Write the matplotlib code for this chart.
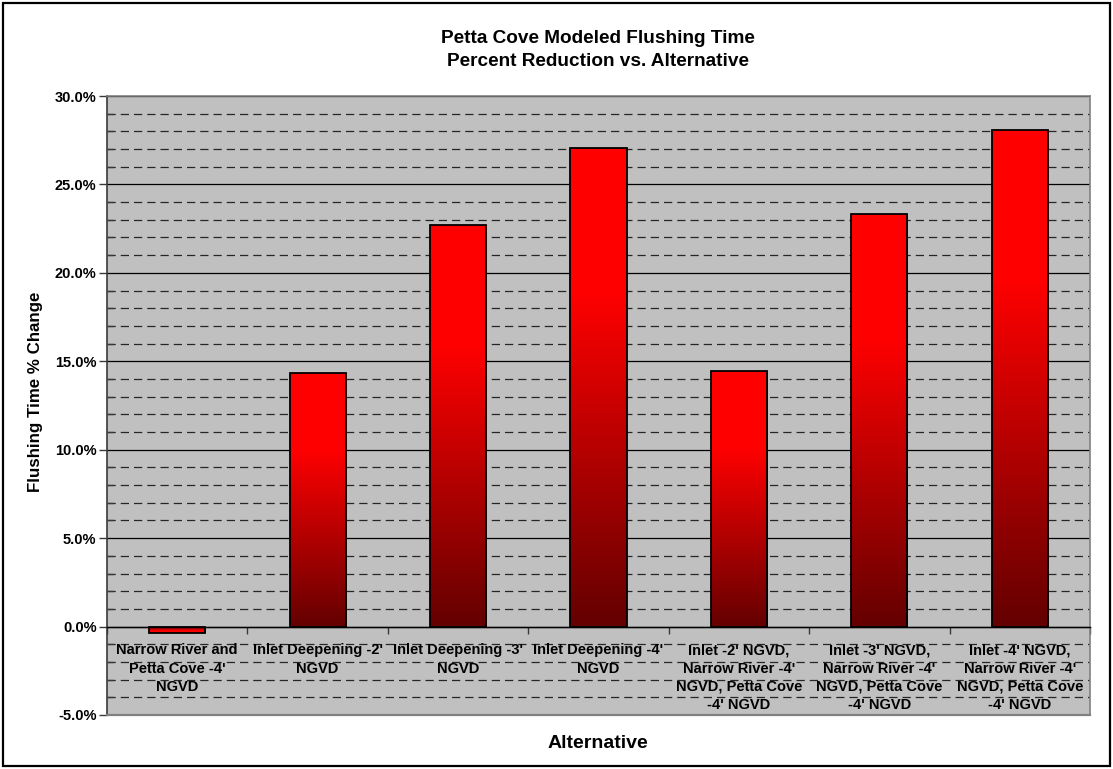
import numpy as np
import matplotlib
matplotlib.use("Agg")
import matplotlib.pyplot as plt
from matplotlib.patches import Rectangle
from matplotlib.colors import LinearSegmentedColormap
from matplotlib.ticker import MultipleLocator, FuncFormatter

plt.rcParams['font.family'] = ['Liberation Sans', 'DejaVu Sans']

# Data
categories = [
    "Narrow River and\nPetta Cove -4'\nNGVD",
    "Inlet Deepening -2'\nNGVD",
    "Inlet Deepening -3'\nNGVD",
    "Inlet Deepening -4'\nNGVD",
    "Inlet -2' NGVD,\nNarrow River -4'\nNGVD, Petta Cove\n-4' NGVD",
    "Inlet -3' NGVD,\nNarrow River -4'\nNGVD, Petta Cove\n-4' NGVD",
    "Inlet -4' NGVD,\nNarrow River -4'\nNGVD, Petta Cove\n-4' NGVD",
]
pct_change = [-0.35, 14.35, 22.7, 27.05, 14.45, 23.3, 28.1]

title = "Petta Cove Modeled Flushing Time\nPercent Reduction vs. Alternative"
y_label = "Flushing Time % Change"
x_label = "Alternative"

W, H = 1113, 769
fig = plt.figure(figsize=(W / 100, H / 100), dpi=100)
fig.patch.set_facecolor('white')

# outer chart frame
fig.add_artist(Rectangle((3 / W, 3 / H), (W - 6) / W, (H - 6) / H,
                         transform=fig.transFigure, fill=False,
                         edgecolor='black', linewidth=1.6))

ax = fig.add_axes([107 / W, 1 - 715 / H, (1090 - 107) / W, (715 - 96) / H])
ax.set_facecolor('#c0c0c0')

n = len(categories)
x = np.arange(n)
bar_w = 0.4

ax.set_xlim(-0.5, n - 0.5)
ax.set_ylim(-5, 30)

# grid
ax.yaxis.set_major_locator(MultipleLocator(5))
ax.yaxis.set_minor_locator(MultipleLocator(1))
ax.yaxis.set_major_formatter(FuncFormatter(lambda v, p: f"{v:.1f}%"))
ax.grid(axis='y', which='major', color='black', linewidth=0.9)
ax.grid(axis='y', which='minor', color='#262626', linewidth=0.9,
        linestyle=(0, (6.6, 4)))
ax.set_axisbelow(True)

# red-to-dark-red vertical gradient for bars
grad_cmap = LinearSegmentedColormap.from_list(
    'bar_grad', [(0.0, (1.0, 0.0, 0.0)), (0.3, (1.0, 0.0, 0.0)),
                 (1.0, (0.39, 0.0, 0.0))])
grad = np.linspace(0, 1, 256).reshape(-1, 1)

bars = ax.bar(x, pct_change, width=bar_w, color='none',
              edgecolor='black', linewidth=1.3, zorder=3)
for b, v in zip(bars, pct_change):
    x0 = b.get_x()
    top, bot = max(v, 0), min(v, 0)
    im = ax.imshow(grad, cmap=grad_cmap, aspect='auto',
                   extent=[x0, x0 + bar_w, bot, top] if v >= 0 else [x0, x0 + bar_w, top, bot],
                   origin='upper', zorder=2, interpolation='bilinear')
    im.set_clip_path(b)

# spines
for s in ['top', 'right']:
    ax.spines[s].set_color('#808080')
    ax.spines[s].set_linewidth(1.2)
ax.spines['left'].set_color('#3a3a3a')
ax.spines['left'].set_linewidth(1.2)
ax.spines['bottom'].set_position(('data', 0))
ax.spines['bottom'].set_color('black')
ax.spines['bottom'].set_linewidth(1.0)
ax.spines['bottom'].set_zorder(4)
# bottom edge of plot area
ax.axhline(-5, color='#808080', linewidth=1.6, zorder=4, clip_on=False)

ax.set_xticks(np.arange(-0.5, n, 1.0))
ax.set_xticklabels([])
ax.tick_params(axis='x', direction='out', length=5, width=1, color='#3a3a3a')
ax.tick_params(axis='y', which='major', direction='out', length=6, width=1,
               color='#3a3a3a', labelsize=10.5, pad=1.5)
ax.tick_params(axis='y', which='minor', direction='in', length=4, width=1,
               color='#3a3a3a')
for lbl in ax.get_yticklabels():
    lbl.set_fontweight('bold')

# category labels below the zero line
for xi, cat in zip(x, categories):
    ax.text(xi, -0.95, cat, ha='center', va='top', fontsize=10.5,
            fontweight='bold', linespacing=1.38, zorder=5)

fig.text(598 / W, 1 - 50 / H, title, ha='center', va='center',
         fontsize=13.7, fontweight='bold', linespacing=1.5)
fig.text(36 / W, 1 - 392 / H, y_label, ha='center', va='center',
         rotation=90, fontsize=12.2, fontweight='bold')
fig.text(598 / W, 1 - 743 / H, x_label, ha='center', va='center',
         fontsize=14, fontweight='bold')

fig.savefig('out.png', dpi=100)
